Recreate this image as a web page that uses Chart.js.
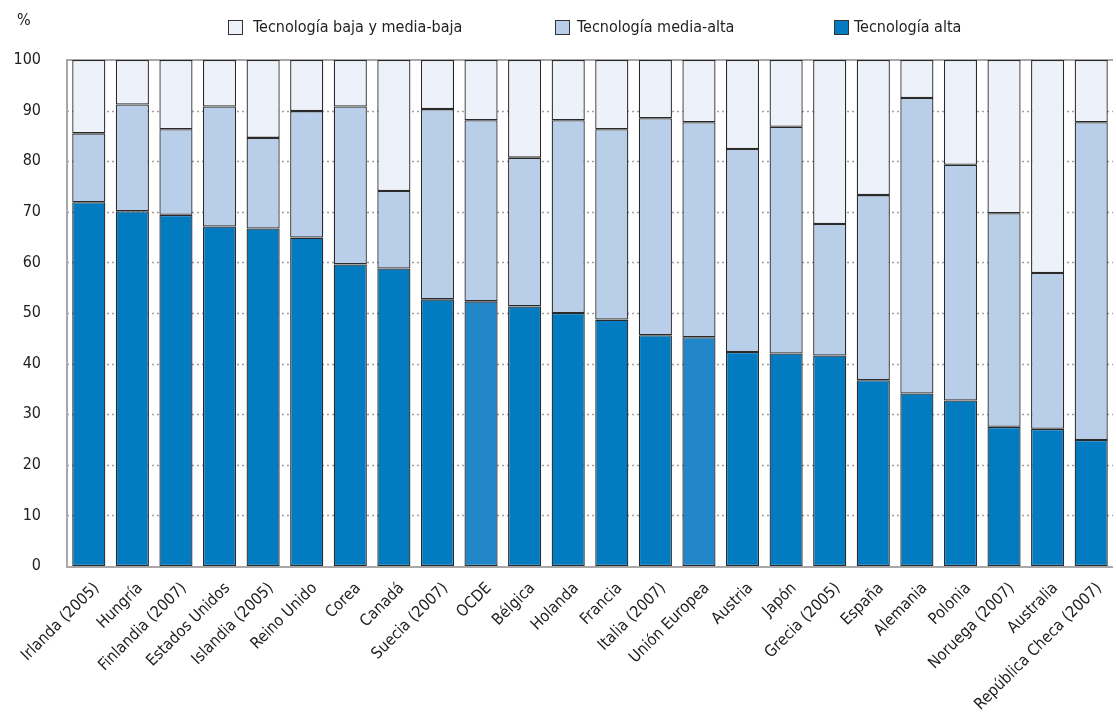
<!DOCTYPE html>
<html><head><meta charset="utf-8">
<script src="https://cdn.jsdelivr.net/npm/chart.js@4.4.1/dist/chart.umd.min.js"></script>
<style>html,body{margin:0;padding:0;background:#fff}#wrap{width:1116px;height:719px}</style>
</head><body><div id="wrap"><canvas id="c" width="1116" height="719"></canvas></div>
<script>
const categories = ['Irlanda (2005)','Hungría','Finlandia (2007)','Estados Unidos','Islandia (2005)','Reino Unido','Corea','Canadá','Suecia (2007)','OCDE','Bélgica','Holanda','Francia','Italia (2007)','Unión Europea','Austria','Japón','Grecia (2005)','España','Alemania','Polonia','Noruega (2007)','Australia','República Checa (2007)'];
const altaValues      = [71.9,70.1,69.4,67.1,66.7,64.9,59.6,58.8,52.7,52.3,51.3,50.0,48.7,45.6,45.2,42.3,42.0,41.6,36.7,34.1,32.7,27.5,27.1,24.9];
const mediaAltaValues = [13.6,21.1,16.9,23.7,17.9,25.0,31.2,15.3,37.6,35.8,29.4,38.1,37.6,42.9,42.5,40.1,44.8,26.0,36.6,58.4,46.6,42.2,30.8,62.8];
const bajaValues      = [14.5,8.8,13.7,9.2,15.4,10.1,9.2,25.9,9.7,11.9,19.3,11.9,13.7,11.5,12.3,17.6,13.2,32.4,26.7,7.5,20.7,30.3,42.1,12.3];
const yTickValues = [0,10,20,30,40,50,60,70,80,90,100];
const seriesLabels = ['Tecnología alta','Tecnología media-alta','Tecnología baja y media-baja'];
const highlighted = ['OCDE','Unión Europea'];

const FONT = '"Liberation Sans Narrow", "Arial Narrow", "DejaVu Sans Condensed", sans-serif';
const C_ALTA = '#037bc1', C_ALTA_HL = '#2187c9', C_MED = '#b9cfe9', C_BAJA = '#edf2fa';
const EDGE = '#2a2a2a';

const gridPlugin = {
  id: 'grid',
  beforeDatasetsDraw(chart) {
    const {ctx, chartArea: a, scales: {y}} = chart;
    ctx.save();
    ctx.strokeStyle = '#a0a0a0';
    ctx.lineWidth = 1.6;
    ctx.setLineDash([2, 3]);
    yTickValues.forEach(v => {
      if (v === 0 || v === 100) return;
      const py = Math.round(y.getPixelForValue(v)) + 0.5;
      ctx.beginPath(); ctx.moveTo(a.left, py); ctx.lineTo(a.right, py); ctx.stroke();
    });
    ctx.setLineDash([]);
    ctx.strokeStyle = '#a8a8a8';
    ctx.lineWidth = 2;
    const top = y.getPixelForValue(100), bot = y.getPixelForValue(0);
    ctx.beginPath(); ctx.moveTo(a.left, top); ctx.lineTo(a.right, top); ctx.stroke();
    ctx.beginPath(); ctx.moveTo(a.left, top - 1); ctx.lineTo(a.left, bot + 1); ctx.stroke();
    ctx.beginPath(); ctx.moveTo(a.left - 1, bot + 1); ctx.lineTo(a.right, bot + 1); ctx.stroke();
    ctx.restore();
  },
  afterDraw(chart) {
    const ctx = chart.ctx;
    ctx.save();
    ctx.font = '16px ' + FONT;
    ctx.fillStyle = '#222';
    ctx.textBaseline = 'middle';
    ctx.textAlign = 'left';
    ctx.fillText('%', 17, 21);
    const order = [2, 1, 0];
    const boxX = [228, 555, 834];
    const textX = [253, 577, 854];
    order.forEach((di, i) => {
      const ds = chart.data.datasets[di];
      const fill = di === 0 ? C_ALTA : ds.backgroundColor;
      ctx.fillStyle = fill;
      ctx.fillRect(boxX[i] + 0.5, 20.5, 14, 14);
      ctx.strokeStyle = '#333';
      ctx.lineWidth = 1;
      ctx.strokeRect(boxX[i] + 0.5, 20.5, 14, 14);
      ctx.fillStyle = '#222';
      ctx.fillText(ds.label, textX[i], 28);
    });
    ctx.restore();
  }
};

new Chart(document.getElementById('c'), {
  type: 'bar',
  data: {
    labels: categories,
    datasets: [
      { label: seriesLabels[0], data: altaValues,
        backgroundColor: categories.map(c => highlighted.includes(c) ? C_ALTA_HL : C_ALTA),
        borderColor: EDGE, borderWidth: 1.3, borderSkipped: false },
      { label: seriesLabels[1], data: mediaAltaValues, backgroundColor: C_MED,
        borderColor: EDGE, borderWidth: 1.3, borderSkipped: false },
      { label: seriesLabels[2], data: bajaValues, backgroundColor: C_BAJA,
        borderColor: EDGE, borderWidth: 1.3, borderSkipped: false }
    ]
  },
  options: {
    responsive: false,
    animation: false,
    devicePixelRatio: 1,
    layout: { padding: { top: 60, right: 3, left: 0, bottom: 0 } },
    datasets: { bar: { barPercentage: 0.76, categoryPercentage: 1.0 } },
    plugins: { legend: { display: false }, tooltip: { enabled: false } },
    scales: {
      x: {
        stacked: true,
        grid: { display: false },
        border: { display: false },
        ticks: { autoSkip: false, maxRotation: 45, minRotation: 45, padding: 5, labelOffset: 8,
                 color: '#222', font: { family: FONT, size: 16 } },
        afterFit(s) { s.height = 153; }
      },
      y: {
        stacked: true,
        min: 0, max: 100,
        grid: { display: false, drawTicks: false },
        border: { display: false },
        afterBuildTicks(s) { s.ticks = yTickValues.map(v => ({ value: v })); },
        ticks: { padding: 26, color: '#222', font: { family: FONT, size: 16 } },
        afterFit(s) { s.width = 67; }
      }
    }
  },
  plugins: [gridPlugin]
});
</script>
</body></html>
